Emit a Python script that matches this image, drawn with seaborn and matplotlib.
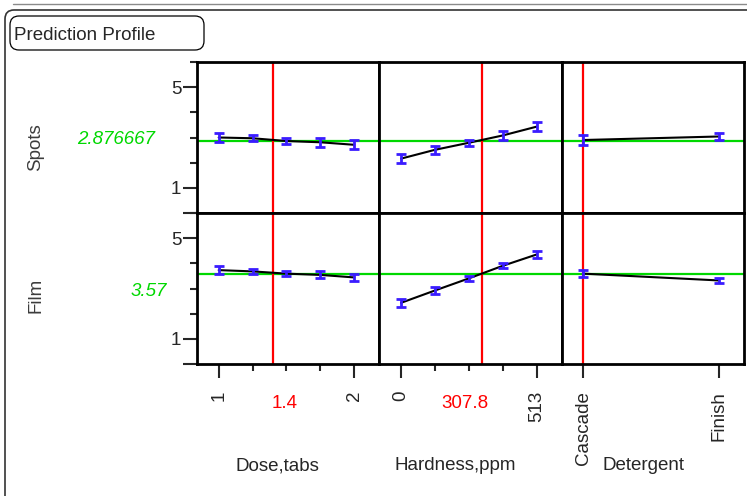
import matplotlib
matplotlib.use("Agg")
import matplotlib.pyplot as plt
import seaborn as sns
import numpy as np
from matplotlib.patches import FancyBboxPatch
from matplotlib.lines import Line2D
from matplotlib.transforms import IdentityTransform, ScaledTranslation

# factor levels
dose_levels = [1.0, 1.25, 1.5, 1.75, 2.0]
hardness_levels = [0.0, 128.25, 256.5, 384.75, 513.0]
detergent_levels = ["Cascade", "Finish"]

# current factor settings (red lines)
dose_now = 1.4
hardness_now = 307.8
detergent_now = "Cascade"

# predicted responses at current settings (green lines)
spots_pred = 2.876667
film_pred = 3.57

# profile traces with confidence half-widths
spots_dose = [3.00, 2.97, 2.86, 2.81, 2.71]
spots_dose_err = [0.18, 0.12, 0.12, 0.17, 0.18]
spots_hard = [2.16, 2.51, 2.79, 3.08, 3.43]
spots_hard_err = [0.17, 0.17, 0.13, 0.18, 0.19]
spots_det = [2.90, 3.04]
spots_det_err = [0.19, 0.14]

film_dose = [3.73, 3.68, 3.59, 3.54, 3.44]
film_dose_err = [0.15, 0.09, 0.10, 0.14, 0.13]
film_hard = [2.43, 2.92, 3.40, 3.90, 4.35]
film_hard_err = [0.15, 0.13, 0.10, 0.10, 0.15]
film_det = [3.59, 3.32]
film_det_err = [0.14, 0.10]

responses = ["Spots", "Film"]
preds = [spots_pred, film_pred]
factor_names = ["Dose,tabs", "Hardness,ppm", "Detergent"]

W, H = 747, 496
GREEN = "#00d800"
RED = "#ff0000"
BLUE = "#3a1cff"
FS = 13.5

sns.set_style("white")
plt.rcParams['font.family'] = ['Liberation Sans', 'DejaVu Sans']


def fx(x):
    return x / W


def fy(y):
    return 1 - y / H


def pad_limits(lo, hi):
    span = hi - lo
    return lo - 0.16 * span, hi + 0.185 * span


fig = plt.figure(figsize=(W / 100, H / 100), dpi=100)

# outer report frame and title box (pixel coords)
fig.add_artist(Line2D([13, W], [H - 4, H - 4], color="#8a8a8a", lw=1,
                      transform=IdentityTransform()))
fig.add_artist(FancyBboxPatch((5, -60), 800, H - 10 + 60,
                              boxstyle="round,pad=0,rounding_size=9",
                              fc="none", ec="#333333", lw=1.2,
                              transform=IdentityTransform()))
fig.add_artist(FancyBboxPatch((10, H - 50), 194, 34,
                              boxstyle="round,pad=0,rounding_size=9",
                              fc="none", ec="black", lw=0.9,
                              transform=IdentityTransform()))
fig.text(fx(14), fy(36), "Prediction Profile", fontsize=13.5, ha="left", va="center")

col_x = [197, 379.3, 561.6]
col_w = 182.3
row_y = [62, 213]
row_h = 151

traces = {
    (0, 0): (dose_levels, spots_dose, spots_dose_err),
    (0, 1): (hardness_levels, spots_hard, spots_hard_err),
    (0, 2): (list(range(len(detergent_levels))), spots_det, spots_det_err),
    (1, 0): (dose_levels, film_dose, film_dose_err),
    (1, 1): (hardness_levels, film_hard, film_hard_err),
    (1, 2): (list(range(len(detergent_levels))), film_det, film_det_err),
}
current = [dose_now, hardness_now, detergent_levels.index(detergent_now)]
xlims = [pad_limits(dose_levels[0], dose_levels[-1]),
         pad_limits(hardness_levels[0], hardness_levels[-1]),
         pad_limits(0, len(detergent_levels) - 1)]

for r in range(2):
    for c in range(3):
        ax = fig.add_axes([fx(col_x[c]), fy(row_y[r] + row_h),
                           col_w / W, row_h / H])
        x, y, e = traces[(r, c)]
        sns.lineplot(x=x, y=y, ax=ax, color="black", lw=1.5,
                     errorbar=None, legend=False, zorder=3)
        ax.errorbar(x, y, yerr=e, fmt="none", ecolor=BLUE, elinewidth=2,
                    capsize=3.6, capthick=2, zorder=4)
        ax.axhline(preds[r], color=GREEN, lw=1.6, zorder=2)
        ax.axvline(current[c], color=RED, lw=1.6, zorder=2)
        ax.set_xlim(*xlims[c])
        ax.set_ylim(0, 6)
        ax.set_xlabel("")
        ax.set_ylabel("")
        for s in ax.spines.values():
            s.set_visible(True)
            s.set_linewidth(2)
            s.set_color("black")

        # y ticks only on first column
        if c == 0:
            ax.set_yticks([0, 1, 5])
            ax.set_yticklabels(["", "1", "5"], fontsize=FS)
            ax.set_yticks([2, 3, 4, 6], minor=True)
            ax.tick_params(axis="y", which="major", direction="out",
                           length=10.3, width=1.5, pad=1, left=True)
            ax.tick_params(axis="y", which="minor", direction="out",
                           length=5.3, width=1.5, left=True)
        else:
            ax.set_yticks([])

        # x ticks only on bottom row
        if r == 1:
            if c == 0:
                ax.set_xticks([dose_levels[0], dose_levels[-1]])
                ax.set_xticklabels(["1", "2"])
                ax.set_xticks(dose_levels[1:-1], minor=True)
            elif c == 1:
                ax.set_xticks([hardness_levels[0], hardness_levels[-1]])
                ax.set_xticklabels(["0", "513"])
                ax.set_xticks(hardness_levels[1:-1], minor=True)
            else:
                ax.set_xticks(list(range(len(detergent_levels))))
                ax.set_xticklabels(detergent_levels)
            for lab in ax.get_xticklabels():
                lab.set_rotation(90)
                lab.set_fontsize(FS)
                lab.set_va("top")
                lab.set_ha("center")
                if lab.get_text() == "Cascade":
                    # JMP drops this label a little lower
                    lab.set_transform(lab.get_transform() +
                                      ScaledTranslation(0, -7 / 100, fig.dpi_scale_trans))
            ax.tick_params(axis="x", which="major", direction="out",
                           length=10.3, width=1.5, pad=9, bottom=True)
            ax.tick_params(axis="x", which="minor", direction="out",
                           length=5.3, width=1.5, bottom=True)
        else:
            ax.set_xticks([])

# response names and predicted values
fig.text(fx(36), fy(147), "Spots", rotation=90, fontsize=FS, color="#3c3c3c",
         ha="center", va="center")
fig.text(fx(36), fy(295), "Film", rotation=90, fontsize=FS, color="#3c3c3c",
         ha="center", va="center")
fig.text(fx(116.5), fy(139.5), f"{spots_pred:.6f}", fontsize=FS, color=GREEN,
         style="italic", ha="center", va="center")
fig.text(fx(148.5), fy(291), f"{film_pred:.2f}", fontsize=FS, color=GREEN,
         style="italic", ha="center", va="center")

# current factor values and factor names
fig.text(fx(285), fy(404), f"{dose_now:g}", fontsize=FS, color=RED,
         ha="center", va="center")
fig.text(fx(465), fy(404), f"{hardness_now:g}", fontsize=FS, color=RED,
         ha="center", va="center")
for name, cx in zip(factor_names, [277, 455, 644]):
    fig.text(fx(cx), fy(466), name, fontsize=FS, ha="center", va="center")

fig.savefig("out.png", dpi=100)
